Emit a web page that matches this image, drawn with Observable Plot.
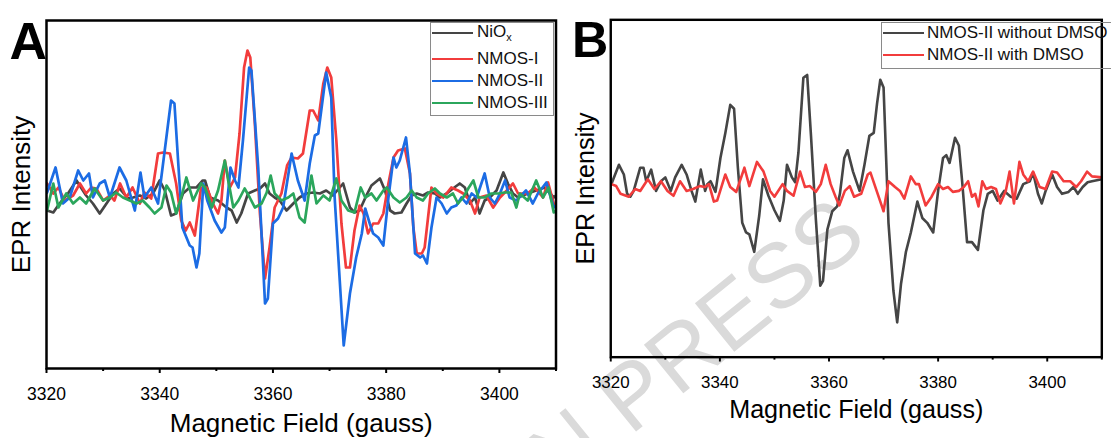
<!DOCTYPE html>
<html><head><meta charset="utf-8">
<script src="https://cdn.jsdelivr.net/npm/d3@7"></script>
<script src="https://cdn.jsdelivr.net/npm/@observablehq/plot@0.6"></script>
<style>
html,body{margin:0;padding:0;background:#fff;}
body{width:1111px;height:438px;overflow:hidden;position:relative;font-family:"Liberation Sans",Arial,sans-serif;}
.panel{position:absolute;top:0;}
.legend{position:absolute;border:1px solid #8a8a8a;box-sizing:border-box;}
.row{position:absolute;height:22px;display:flex;align-items:center;font-size:17px;color:#111;white-space:nowrap;}
.row .sw{width:41px;height:2.6px;margin-right:4px;flex:none;}
.row sub{font-size:11px;}
#wm{position:absolute;left:0;top:0;}
</style></head><body>
<svg id="wm" width="1111" height="438"><text x="870" y="242" transform="rotate(-39 870 242)" text-anchor="end" font-size="91" fill="#dadada" font-family="Liberation Sans, Arial, sans-serif">ARTICLE IN PRESS</text></svg>
<div id="A" class="panel" style="left:0"></div>
<div id="B" class="panel" style="left:560px"></div>
<script>
const fieldTicks=[3320,3340,3360,3380,3400];
const minorTicks=[3330,3350,3370,3390,3410];
const seriesNamesA=["NiO<sub>x</sub>","NMOS-I","NMOS-II","NMOS-III"];
const seriesColorsA=["#454545","#f23c3c","#1c6ce4","#2ba65c"];
const seriesNamesB=["NMOS-II without DMSO","NMOS-II with DMSO"];
const seriesColorsB=["#454545","#f23c3c"];

// Panel A: [field (gauss), EPR intensity (a.u.)]
const niox=[[3320.1,-15],[3321.2,-17],[3322.3,-8],[3323.8,2],[3325.3,15],[3326.2,7],[3327.0,0],[3328.2,-8],[3329.4,-18],[3330.6,-8],[3331.8,2],[3332.9,7],[3334.4,-3],[3335.3,-2],[3336.5,0],[3337.6,-3],[3338.8,2],[3340.0,15],[3340.9,5],[3342.0,-20],[3342.9,-18],[3344.1,2],[3345.3,8],[3346.5,8],[3347.6,15],[3348.0,15],[3348.9,-2],[3350.3,-5],[3351.8,-12],[3352.7,-15],[3353.6,-27],[3354.4,-18],[3355.6,2],[3356.8,5],[3357.7,7],[3358.6,12],[3359.4,2],[3360.3,-2],[3361.2,-5],[3362.4,-15],[3363.6,-8],[3364.7,-2],[3365.9,2],[3367.1,3],[3368.3,2],[3369.4,5],[3370.6,0],[3371.8,8],[3372.4,12],[3373.6,-12],[3374.4,-17],[3375.3,-15],[3376.5,0],[3377.4,10],[3378.9,17],[3379.8,5],[3380.7,-15],[3381.5,-18],[3382.7,-17],[3383.6,-8],[3384.5,0],[3385.4,2],[3386.5,0],[3387.4,3],[3388.6,2],[3389.5,-2],[3390.7,2],[3391.8,7],[3393.0,12],[3393.9,8],[3394.8,-8],[3395.7,-2],[3396.5,-18],[3397.4,-5],[3398.3,-2],[3399.5,5],[3400.7,23],[3401.5,12],[3402.4,2],[3403.3,-2],[3405.0,2],[3406.5,5],[3408.0,8],[3409.6,-2],[3410,0]];
const nmos1=[[3320.1,12],[3321.2,2],[3322.1,8],[3323.2,-5],[3324.7,0],[3325.9,12],[3327.0,2],[3327.9,8],[3328.8,7],[3330.0,-5],[3331.2,0],[3332.0,-5],[3333.0,12],[3334.1,-2],[3335.2,8],[3336.5,-8],[3337.3,3],[3338.5,-3],[3339.7,42],[3340.6,43],[3341.8,42],[3342.9,12],[3343.8,-25],[3344.6,-35],[3345.3,-27],[3346.2,-40],[3347.3,8],[3348.3,8],[3349.4,-8],[3350.3,-18],[3350.9,-5],[3351.5,35],[3352.4,8],[3353.3,18],[3354.1,62],[3354.9,128],[3355.5,145],[3356.0,138],[3356.8,72],[3357.7,-18],[3358.6,-83],[3359.4,-52],[3360.3,-12],[3361.5,2],[3362.5,30],[3363.3,38],[3364.4,37],[3365.3,42],[3366.5,85],[3367.1,85],[3368.0,75],[3368.9,112],[3369.6,128],[3370.3,118],[3371.2,55],[3372.1,-28],[3372.9,-72],[3373.6,-72],[3374.4,-35],[3375.3,-10],[3376.0,-18],[3376.8,-38],[3377.7,-28],[3378.6,-28],[3379.5,-18],[3380.4,12],[3381.3,38],[3382.1,45],[3383.3,47],[3384.2,22],[3384.8,-32],[3385.4,-58],[3386.3,-58],[3386.8,-52],[3387.4,-22],[3388.0,8],[3388.9,2],[3390.1,-2],[3391.5,8],[3392.7,5],[3393.6,2],[3394.8,-5],[3395.7,-18],[3396.5,-2],[3397.7,0],[3398.9,-12],[3400.1,-2],[3401.3,5],[3402.4,12],[3403.3,2],[3405.0,2],[3406.2,8],[3407.7,-2],[3408.6,13],[3409.6,-8],[3410,-10]];
const nmos2=[[3320.1,3],[3321.6,28],[3322.9,-8],[3324.1,-2],[3325.6,25],[3326.5,15],[3327.5,22],[3328.2,-2],[3329.4,12],[3330.3,15],[3331.2,-2],[3332.9,28],[3334.1,15],[3335.6,-15],[3336.6,23],[3337.3,-2],[3338.5,8],[3339.7,-8],[3342.0,95],[3342.6,92],[3344.0,-32],[3345.3,-50],[3345.8,-52],[3346.5,-72],[3347.0,-58],[3347.7,12],[3348.4,-5],[3349.7,-25],[3350.9,-37],[3351.5,-32],[3352.5,28],[3353.3,15],[3353.9,8],[3354.7,55],[3355.8,128],[3356.2,125],[3357.4,28],[3358.6,-108],[3359.1,-103],[3360.0,-28],[3360.9,-23],[3361.8,-12],[3363.3,42],[3364.4,15],[3365.6,-5],[3366.5,32],[3367.4,60],[3368.0,62],[3368.6,88],[3369.4,123],[3370.3,98],[3370.9,-2],[3371.8,-85],[3372.5,-150],[3373.6,-98],[3374.7,-62],[3375.7,-38],[3376.3,-13],[3377.1,-28],[3377.7,-38],[3378.6,-42],[3379.5,-50],[3380.4,-2],[3381.3,38],[3381.8,28],[3382.4,35],[3383.5,58],[3384.2,22],[3385.1,-58],[3386.0,-62],[3386.5,-60],[3387.2,-68],[3388.0,-32],[3388.9,-2],[3389.8,-8],[3390.7,-18],[3391.5,-12],[3392.4,-10],[3393.3,-2],[3394.2,-8],[3395.1,2],[3396.0,-2],[3397.4,22],[3398.3,-2],[3399.2,-8],[3400.1,2],[3401.0,15],[3401.8,-2],[3403.0,-5],[3404.7,5],[3405.9,-8],[3406.8,2],[3408.3,13],[3409.6,-12],[3410,-10]];
const nmos3=[[3320.1,-15],[3321.2,12],[3322.1,-12],[3323.5,2],[3324.7,-8],[3325.9,-2],[3327.0,-8],[3328.5,7],[3330.0,-5],[3331.2,-2],[3332.3,3],[3333.5,-2],[3334.7,-5],[3335.9,-8],[3337.0,-5],[3338.2,-12],[3339.1,-18],[3340.3,-12],[3341.2,10],[3342.0,3],[3342.9,-18],[3343.8,-2],[3344.7,18],[3345.9,-5],[3347.3,12],[3348.0,8],[3349.2,-12],[3350.3,5],[3351.5,35],[3352.1,15],[3353.0,-12],[3353.9,-5],[3355.0,7],[3355.9,-2],[3356.8,-12],[3358.0,-8],[3358.9,3],[3359.6,20],[3360.3,2],[3361.5,-5],[3362.7,-2],[3363.6,2],[3364.7,-22],[3365.6,-27],[3366.8,20],[3367.7,-8],[3368.9,0],[3370.0,-5],[3371.2,17],[3372.1,-5],[3373.3,-15],[3374.4,-17],[3375.5,8],[3376.3,-2],[3377.4,2],[3378.3,-5],[3379.5,5],[3380.1,8],[3381.3,-2],[3382.4,-7],[3383.6,-2],[3384.5,5],[3385.4,-2],[3386.5,-5],[3387.4,2],[3388.6,7],[3389.5,2],[3390.7,-2],[3391.8,2],[3392.7,-8],[3393.6,-2],[3394.5,7],[3395.4,15],[3396.3,-2],[3397.4,-2],[3398.6,2],[3399.8,2],[3400.9,3],[3402.1,3],[3403.0,-12],[3403.6,2],[3405.0,-5],[3406.5,15],[3407.7,-2],[3408.7,8],[3409.6,-17],[3410,-15]];

// Panel B
const noDmso=[[3320.1,5],[3321.5,25],[3322.4,15],[3323.0,-5],[3323.6,-8],[3324.2,-2],[3325.4,22],[3326.0,22],[3326.5,8],[3327.4,20],[3328.3,-2],[3329.2,8],[3330.0,12],[3331.0,-2],[3331.8,12],[3333.0,25],[3333.9,15],[3334.8,-2],[3335.5,-13],[3336.5,20],[3337.3,-2],[3337.7,5],[3338.3,8],[3339.2,-3],[3340.1,32],[3341.0,58],[3341.9,87],[3342.6,83],[3343.3,22],[3344.1,-35],[3344.8,-45],[3345.4,-47],[3346.3,-65],[3347.2,-28],[3347.9,10],[3348.9,-7],[3350.0,-22],[3351.0,-33],[3351.7,-12],[3352.3,25],[3353.2,12],[3353.8,7],[3354.4,38],[3355.3,115],[3356.0,118],[3356.7,55],[3357.6,-32],[3358.4,-100],[3358.9,-95],[3359.7,-42],[3360.6,-23],[3361.5,-18],[3362.0,-5],[3362.8,32],[3363.4,40],[3364.4,18],[3365.6,-2],[3366.5,25],[3367.4,55],[3368.2,58],[3368.8,88],[3369.4,113],[3370.0,105],[3370.9,-35],[3371.8,-105],[3372.5,-138],[3373.2,-98],[3374.1,-65],[3375.0,-45],[3376.2,-13],[3377.1,-30],[3378.0,-35],[3379.1,-45],[3380.0,-2],[3380.9,32],[3381.5,35],[3382.1,27],[3383.1,53],[3383.8,45],[3384.4,8],[3385.3,-55],[3386.2,-55],[3387.3,-63],[3388.3,-22],[3389.1,-5],[3390.0,-2],[3390.9,-12],[3392.1,-2],[3393.3,-8],[3394.4,-10],[3395.6,5],[3396.8,8],[3397.4,17],[3398.3,-5],[3399.0,-15],[3399.7,-2],[3400.9,15],[3401.8,2],[3402.7,-5],[3403.9,-3],[3404.8,2],[3405.6,-5],[3406.5,2],[3407.4,7],[3408.2,8],[3410,10]];
const withDmso=[[3320.1,5],[3321.0,3],[3321.8,-5],[3323.3,-8],[3324.5,0],[3325.4,-2],[3326.8,10],[3328.0,0],[3329.2,8],[3330.4,-2],[3331.5,-7],[3332.7,8],[3333.9,-2],[3335.1,0],[3336.3,3],[3337.2,2],[3338.0,5],[3338.9,-13],[3339.5,-12],[3341.0,15],[3341.9,2],[3343.0,-3],[3344.5,22],[3345.4,3],[3346.8,28],[3348.0,18],[3349.2,-2],[3350.0,-8],[3351.5,5],[3352.3,-2],[3353.5,-7],[3354.7,18],[3355.6,2],[3356.5,3],[3357.6,-3],[3358.5,5],[3359.4,25],[3360.3,5],[3361.2,-8],[3361.9,-17],[3362.9,-2],[3363.8,3],[3364.6,-8],[3365.9,-5],[3367.1,15],[3367.6,17],[3368.5,2],[3369.7,-18],[3370.0,-23],[3370.9,8],[3372.1,2],[3373.0,-2],[3373.8,-10],[3375.0,13],[3375.9,5],[3376.5,5],[3377.7,-17],[3378.8,-8],[3380.0,5],[3380.9,0],[3381.8,2],[3382.7,-3],[3383.8,-2],[3384.7,2],[3385.5,8],[3386.2,-8],[3386.8,-5],[3387.4,-18],[3388.1,8],[3388.8,0],[3389.7,2],[3390.6,0],[3391.4,-15],[3392.4,-2],[3393.1,18],[3393.9,-15],[3394.9,28],[3395.6,15],[3396.5,8],[3397.4,18],[3398.6,2],[3399.7,0],[3400.9,18],[3401.8,17],[3403.0,8],[3404.2,8],[3405.3,2],[3406.2,8],[3407.3,18],[3408.2,13],[3410,12]];

const FONT='"Liberation Sans", Arial, sans-serif';
function panel(o){
  return Plot.plot({
    width:o.width,height:438,
    marginLeft:o.ml,marginRight:o.mr,marginTop:20,marginBottom:o.mb,
    style:{background:"transparent",fontFamily:FONT,color:"#000",overflow:"visible"},
    x:{domain:[3320,3410]},
    y:{domain:o.ydom,axis:null},
    marks:[
      ...o.series.map((s,i)=>Plot.line(s,{x:d=>d[0],y:d=>d[1],stroke:o.colors[i],strokeWidth:2.7,clip:true,strokeLinejoin:"round"})),
      Plot.frame({stroke:"#000",strokeWidth:2.5}),
      Plot.axisX({ticks:fieldTicks,tickSize:5,tickPadding:14,tickFormat:d3.format("d"),fontSize:17.5,strokeWidth:2,label:null}),
      Plot.axisX({ticks:minorTicks,tickSize:3,tickFormat:()=>"",strokeWidth:2,label:null}),
      Plot.axisY({ticks:[],tickSize:0,label:"EPR Intensity",labelAnchor:"center",labelArrow:"none",labelOffset:o.ytOff,fontSize:26}),
      Plot.text([o.letter],{frameAnchor:"top-left",text:d=>d,dx:o.letterDx,dy:2,lineAnchor:"top",textAnchor:"start",fontSize:52,fontWeight:"bold",fill:"#000"}),
      Plot.text(["Magnetic Field (gauss)"],{frameAnchor:"bottom",text:d=>d,dy:63,fontSize:26,fill:"#000"})
    ]
  });
}
document.getElementById("A").append(panel({width:560,ml:46,mr:4.5,mb:70,ydom:[-173,175],series:[niox,nmos1,nmos2,nmos3],colors:seriesColorsA,letter:"A",letterDx:-37,ytOff:35}));
document.getElementById("B").append(panel({width:570,ml:52,mr:10,mb:69,ydom:[-174,175],series:[noDmso,withDmso],colors:seriesColorsB,letter:"B",letterDx:-40,ytOff:36}));

function legend(names,colors,box,rowsY,lineX,textGap){
  const b=document.createElement("div");
  b.className="legend";
  Object.assign(b.style,{left:box[0]+"px",top:box[1]+"px",width:box[2]+"px",height:box[3]+"px"});
  document.body.append(b);
  names.forEach((n,i)=>{
    const r=document.createElement("div");
    r.className="row";
    r.style.left=lineX+"px";
    r.style.top=(rowsY[i]-11)+"px";
    r.innerHTML='<span class="sw" style="background:'+colors[i]+';margin-right:'+textGap+'px"></span><span>'+n+'</span>';
    document.body.append(r);
  });
}
legend(seriesNamesA,seriesColorsA,[430,22,124,94],[33,59,81,103],432,4);
legend(seriesNamesB,seriesColorsB,[881,22,260,47],[33,55],883,3);
</script></body></html>
